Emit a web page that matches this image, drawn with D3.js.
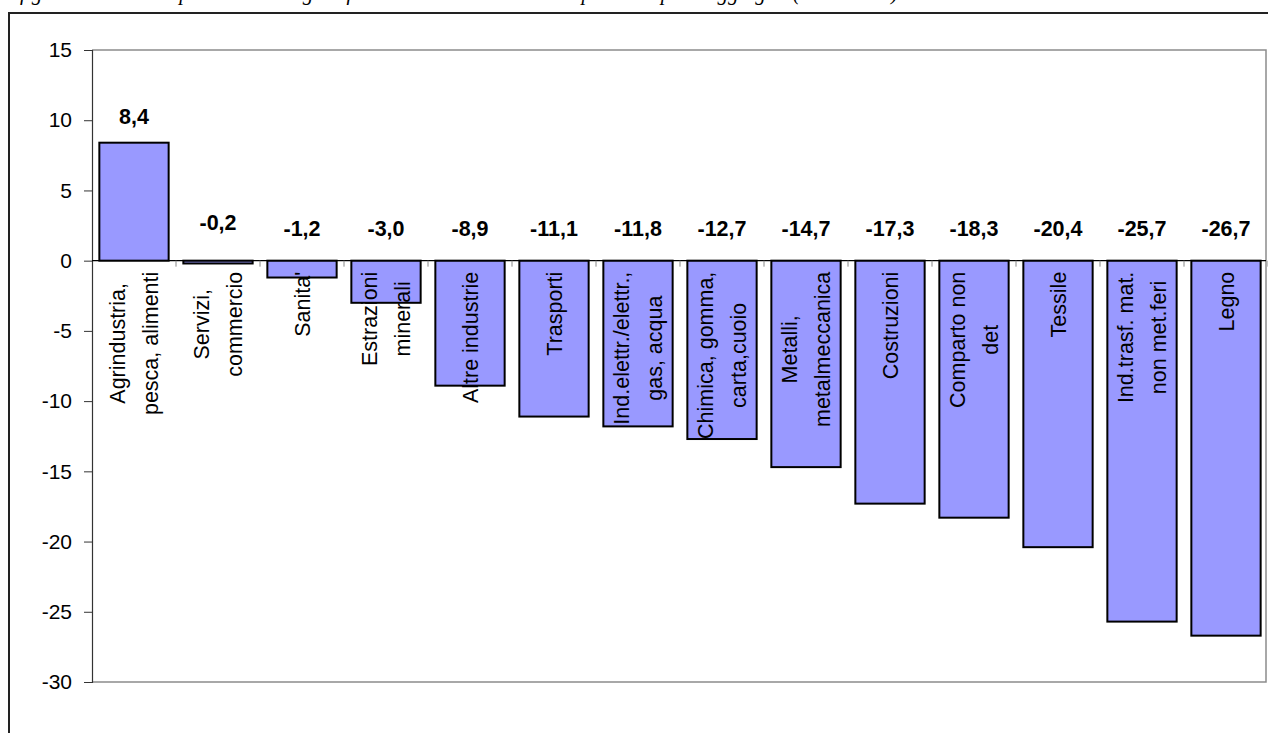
<!DOCTYPE html>
<html>
<head>
<meta charset="utf-8">
<script src="https://cdn.jsdelivr.net/npm/d3@7/dist/d3.min.js"></script>
<style>
  html, body { margin: 0; padding: 0; background: #fff; }
  svg { display: block; }
</style>
</head>
<body>
<svg id="chart" width="1268" height="733"></svg>
<script>
// Percent change by aggregated sector
const categories = [
  ["Agrindustria,", "pesca, alimenti"],
  ["Servizi,", "commercio"],
  ["Sanita'"],
  ["Estrazioni", "minerali"],
  ["Altre industrie"],
  ["Trasporti"],
  ["Ind.elettr./elettr.,", "gas, acqua"],
  ["Chimica, gomma,", "carta,cuoio"],
  ["Metalli,", "metalmeccanica"],
  ["Costruzioni"],
  ["Comparto non", "det"],
  ["Tessile"],
  ["Ind.trasf. mat.", "non met.feri"],
  ["Legno"]
];
const values = [8.4, -0.2, -1.2, -3.0, -8.9, -11.1, -11.8, -12.7, -14.7, -17.3, -18.3, -20.4, -25.7, -26.7];
const yTicks = [15, 10, 5, 0, -5, -10, -15, -20, -25, -30];
const title = "fig. 3 – Variazione percentuale degli infortuni tra il 2001 e il 2002 per i comparti aggregati (2001-2002)";

const svg = d3.select("#chart");
const W = 1268, H = 733;
const plot = { left: 92, right: 1266, top: 50, bottom: 682 };
const sans = "'Liberation Sans', Arial, sans-serif";

svg.append("rect").attr("width", W).attr("height", H).attr("fill", "#fff");

// heading line, running off the top of the page
svg.append("text")
  .attr("x", 20).attr("y", 0)
  .attr("font-family", "'Liberation Serif', 'Times New Roman', serif")
  .attr("font-style", "italic")
  .attr("font-size", 21)
  .attr("fill", "#000")
  .text(title);

// outer chart frame
svg.append("path")
  .attr("d", `M9,${H} V13 H${W}`)
  .attr("fill", "none").attr("stroke", "#222").attr("stroke-width", 2);

const x = d3.scaleBand()
  .domain(d3.range(values.length))
  .range([plot.left, plot.left + 84 * values.length])
  .paddingInner(0.175)
  .paddingOuter(0.0875);

const y = d3.scaleLinear().domain([-30, 15]).range([plot.bottom, plot.top]);

// plot area border (top, right, bottom)
svg.append("path")
  .attr("d", `M${plot.left},${plot.top} H${plot.right} V${plot.bottom} H${plot.left}`)
  .attr("fill", "none").attr("stroke", "#8c8c8c").attr("stroke-width", 1.5);

// value axis
const yAxis = d3.axisLeft(y).tickValues(yTicks).tickSize(8).tickPadding(12).tickFormat(d => String(d));
const gy = svg.append("g").attr("transform", `translate(${plot.left},0)`).call(yAxis);
gy.select(".domain").attr("stroke", "#333").attr("stroke-width", 1.2);
gy.selectAll(".tick line").attr("stroke", "#333");
gy.selectAll(".tick text")
  .attr("font-family", sans).attr("font-size", 21).attr("fill", "#000");

// bars
svg.append("g").selectAll("rect")
  .data(values)
  .join("rect")
  .attr("x", (d, i) => x(i))
  .attr("width", x.bandwidth())
  .attr("y", d => y(Math.max(0, d)))
  .attr("height", d => Math.abs(y(d) - y(0)))
  .attr("fill", "#9999ff")
  .attr("stroke", "#000")
  .attr("stroke-width", 2);

// category axis along zero
const zeroY = y(0);
svg.append("line")
  .attr("x1", plot.left).attr("x2", plot.right)
  .attr("y1", zeroY).attr("y2", zeroY)
  .attr("stroke", "#000").attr("stroke-width", 1.2);
const step = x.step();
svg.append("g").selectAll("line")
  .data(d3.range(1, values.length + 1))
  .join("line")
  .attr("x1", k => plot.left + k * step)
  .attr("x2", k => plot.left + k * step)
  .attr("y1", zeroY).attr("y2", zeroY + 6)
  .attr("stroke", "#888").attr("stroke-width", 1);

// value labels
svg.append("g").selectAll("text")
  .data(values)
  .join("text")
  .attr("x", (d, i) => x(i) + x.bandwidth() / 2)
  .attr("y", d => {
    if (d >= 0) return y(d) - 19;
    return zeroY - (Math.abs(d) < 0.5 ? 31 : 25);
  })
  .attr("text-anchor", "middle")
  .attr("font-family", sans).attr("font-size", 21.5).attr("font-weight", "bold")
  .attr("fill", "#000")
  .text(d => d.toFixed(1).replace(".", ","));

// rotated category labels, lines centred in a block hanging from the axis
const lineGap = 33;
const catG = svg.append("g");
categories.forEach((lines, i) => {
  const cx = x(i) + x.bandwidth() / 2;
  const g = catG.append("g")
    .attr("transform", `translate(${cx},${zeroY + 11}) rotate(-90)`);
  const texts = lines.map((ln, j) => g.append("text")
    .attr("font-family", sans).attr("font-size", 21.5).attr("fill", "#000")
    .attr("text-anchor", "middle")
    .attr("y", (j - (lines.length - 1) / 2) * lineGap)
    .attr("dy", "0.35em")
    .text(ln));
  const maxW = d3.max(texts, t => t.node().getComputedTextLength());
  texts.forEach(t => t.attr("x", -maxW / 2));
});
</script>
</body>
</html>
